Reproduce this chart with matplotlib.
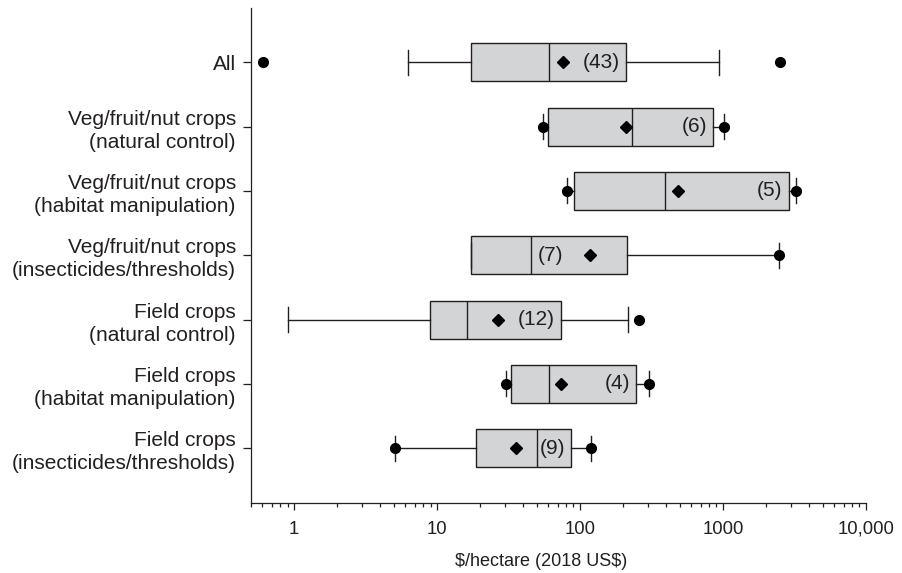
import matplotlib
matplotlib.use("Agg")
import matplotlib.pyplot as plt
from matplotlib.ticker import FixedLocator, FixedFormatter, LogLocator, NullFormatter

plt.rcParams['font.family'] = ['Liberation Sans', 'DejaVu Sans']

# Value of pest control services, $/hectare (2018 US$)
categories = [
    "All",
    "Veg/fruit/nut crops\n(natural control)",
    "Veg/fruit/nut crops\n(habitat manipulation)",
    "Veg/fruit/nut crops\n(insecticides/thresholds)",
    "Field crops\n(natural control)",
    "Field crops\n(habitat manipulation)",
    "Field crops\n(insecticides/thresholds)",
]
counts = [43, 6, 5, 7, 12, 4, 9]
whisker_low = [6.3, 55.2, 81.5, 17.3, 0.90, 30.6, 5.1]
q1 = [17.3, 59.8, 90.8, 17.3, 8.9, 33.0, 18.8]
median = [61.0, 232.0, 390.0, 45.7, 16.2, 61.0, 50.0]
q3 = [209.0, 857.0, 2880.0, 213.0, 74.0, 247.0, 86.5]
whisker_high = [935.0, 1018.0, 3240.0, 2450.0, 218.0, 305.0, 119.0]
mean = [75.6, 210.0, 484.0, 117.0, 26.6, 74.0, 35.7]
extremes = [[0.61, 2518.0], [55.2, 1018.0], [81.5, 3240.0], [2450.0],
            [257.0], [30.6, 305.0], [5.1, 119.0]]

xtick_values = [1, 10, 100, 1000, 10000]
xtick_labels = ["1", "10", "100", "1000", "10,000"]

ink = "#231f20"
box_fill = "#d3d4d6"

fig = plt.figure(figsize=(9.03, 5.73), dpi=100)
ax = fig.add_axes([0.278, 0.1227, 0.681, 0.8628])

stats = []
for i in range(len(categories)):
    stats.append(dict(med=median[i], q1=q1[i], q3=q3[i],
                      whislo=whisker_low[i], whishi=whisker_high[i],
                      mean=mean[i], fliers=extremes[i], label=categories[i]))

positions = list(range(len(categories)))
ax.bxp(stats, positions=positions, widths=0.59, capwidths=0.39,
       orientation='horizontal', patch_artist=True,
       showmeans=True, showfliers=True,
       boxprops=dict(facecolor=box_fill, edgecolor=ink, linewidth=1.0),
       medianprops=dict(color=ink, linewidth=1.0),
       whiskerprops=dict(color=ink, linewidth=1.0),
       capprops=dict(color=ink, linewidth=1.0),
       flierprops=dict(marker='o', markerfacecolor='black',
                       markeredgecolor='black', markersize=7),
       meanprops=dict(marker='D', markerfacecolor='black',
                      markeredgecolor='black', markersize=6.3))

# sample-size labels inside each box
for i, n in enumerate(counts):
    if i == 3:
        ax.annotate(f"({n})", xy=(median[i], i), xytext=(4.5, 0),
                    textcoords='offset points', ha='left', va='center',
                    fontsize=15, color=ink)
    else:
        ax.annotate(f"({n})", xy=(q3[i], i), xytext=(-4.5, 0),
                    textcoords='offset points', ha='right', va='center',
                    fontsize=15, color=ink)

ax.set_xscale('log')
ax.set_xlim(0.5, 10000)
ax.set_ylim(6.846, -0.839)

ax.xaxis.set_major_locator(FixedLocator(xtick_values))
ax.xaxis.set_major_formatter(FixedFormatter(xtick_labels))
ax.xaxis.set_minor_locator(LogLocator(base=10, subs=range(2, 10)))
ax.xaxis.set_minor_formatter(NullFormatter())

ax.set_yticks(positions)
ax.set_yticklabels(categories, fontsize=15, color=ink, linespacing=1.27)

for side in ('top', 'right'):
    ax.spines[side].set_visible(False)
for side in ('left', 'bottom'):
    ax.spines[side].set_color(ink)
    ax.spines[side].set_linewidth(0.9)

ax.tick_params(axis='y', which='major', direction='out', length=5.5,
               width=0.9, color=ink, pad=5.5)
ax.tick_params(axis='x', which='major', direction='out', length=5,
               width=0.9, color=ink, pad=8, labelsize=13.3, labelcolor=ink)
ax.tick_params(axis='x', which='minor', direction='out', length=3.2,
               width=0.9, color=ink)

ax.set_xlabel(r"\$/hectare (2018 US\$)", fontsize=13, color=ink, labelpad=11)
ax.xaxis.label.set_x(0.4715)

fig.savefig("out.png", dpi=100)
